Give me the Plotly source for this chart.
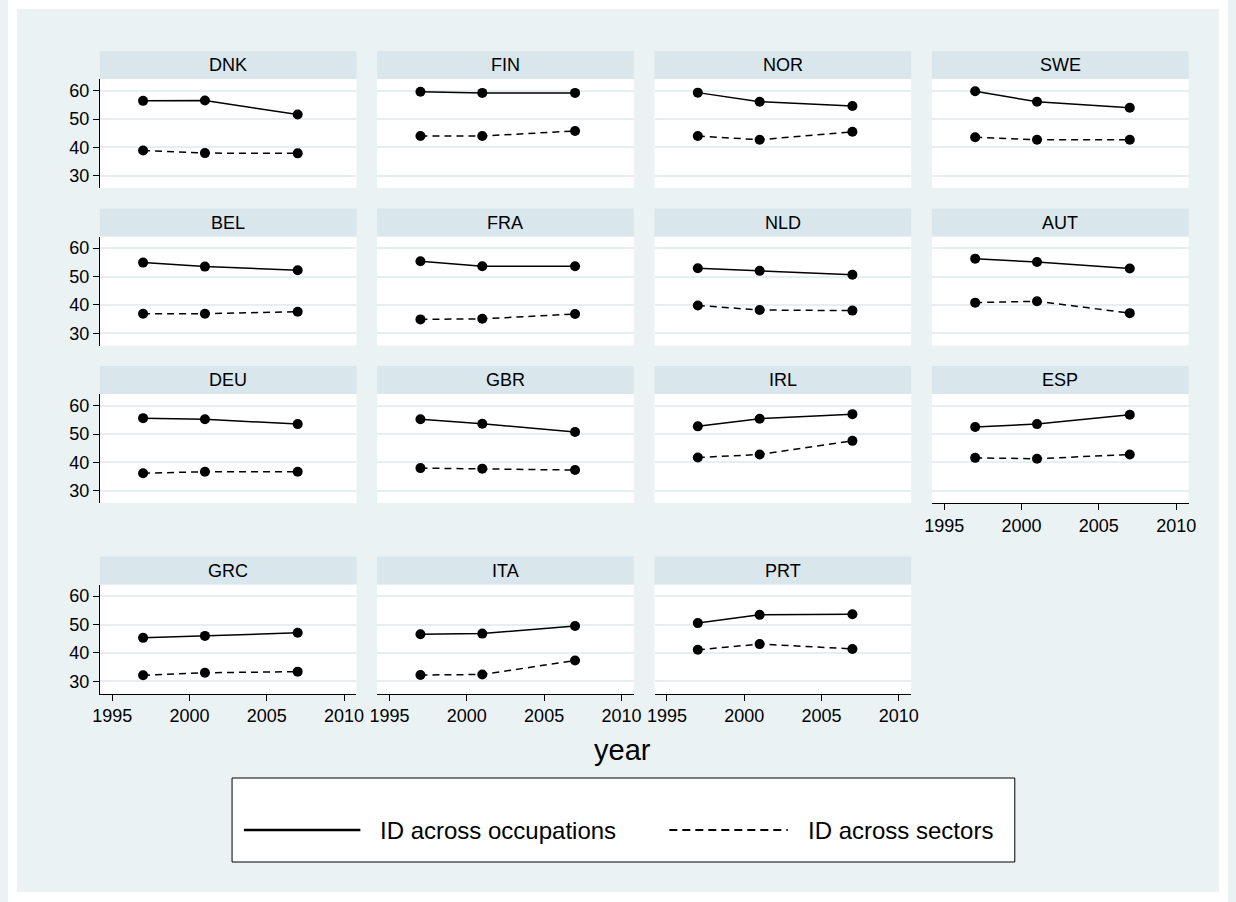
import plotly.graph_objects as go

# ---------------- data ----------------
countries = ["DNK", "FIN", "NOR", "SWE",
             "BEL", "FRA", "NLD", "AUT",
             "DEU", "GBR", "IRL", "ESP",
             "GRC", "ITA", "PRT"]
years = [1997, 2001, 2007]

id_occupations = {
    "DNK": [56.4, 56.5, 51.6],
    "FIN": [59.6, 59.2, 59.2],
    "NOR": [59.3, 56.1, 54.6],
    "SWE": [59.8, 56.1, 54.0],
    "BEL": [54.9, 53.5, 52.2],
    "FRA": [55.4, 53.6, 53.6],
    "NLD": [52.9, 52.0, 50.6],
    "AUT": [56.3, 55.1, 52.8],
    "DEU": [55.6, 55.2, 53.5],
    "GBR": [55.2, 53.6, 50.7],
    "IRL": [52.7, 55.4, 57.0],
    "ESP": [52.5, 53.5, 56.8],
    "GRC": [45.3, 46.0, 47.1],
    "ITA": [46.6, 46.8, 49.5],
    "PRT": [50.5, 53.4, 53.6],
}
id_sectors = {
    "DNK": [38.9, 38.0, 37.9],
    "FIN": [44.0, 44.0, 45.8],
    "NOR": [44.0, 42.7, 45.5],
    "SWE": [43.6, 42.7, 42.7],
    "BEL": [36.9, 36.9, 37.6],
    "FRA": [34.9, 35.1, 36.8],
    "NLD": [39.8, 38.2, 38.0],
    "AUT": [40.8, 41.3, 37.1],
    "DEU": [36.2, 36.7, 36.7],
    "GBR": [38.0, 37.8, 37.3],
    "IRL": [41.7, 42.8, 47.6],
    "ESP": [41.6, 41.3, 42.8],
    "GRC": [32.1, 33.0, 33.4],
    "ITA": [32.2, 32.4, 37.3],
    "PRT": [41.1, 43.1, 41.4],
}
y_ticks = [30, 40, 50, 60]
x_ticks = [1995, 2000, 2005, 2010]
legend_labels = ["ID across occupations", "ID across sectors"]
x_title = "year"

# ---------------- layout geometry (pixels) ----------------
W, H = 1236, 902
FONT = "Liberation Sans, Arial, sans-serif"
BG = "#EAF2F3"
STRIP = "#D9E6EB"
GRID = "#E6EEF0"

col_left = [93, 374, 655, 936]
panel_w = 260
strip_top = [51, 208.5, 366, 556.5]
strip_h = 28
plot_h = 109
y_range = [25.7, 64.1]
x_range = [1994.2, 2010.8]

def px(x):
    return x / W

def py(y):
    return 1 - y / H

fig = go.Figure()
shapes = []
annotations = []

# white outer frame
for (x0, y0, x1, y1) in [(0, 0, W, 9), (0, 892, W, H), (0, 0, 9, H), (1227, 0, W, H)]:
    shapes.append(dict(type="rect", xref="paper", yref="paper",
                       x0=px(x0), x1=px(x1), y0=py(y1), y1=py(y0),
                       fillcolor="white", line=dict(width=0), layer="below"))

bottom_panels = {"ESP", "GRC", "ITA", "PRT"}

for i, c in enumerate(countries):
    r, k = divmod(i, 4)
    n = i + 1
    xa = "x" if n == 1 else f"x{n}"
    ya = "y" if n == 1 else f"y{n}"
    left = col_left[k]
    top = strip_top[r] + strip_h
    bottom = top + plot_h

    fig.add_trace(go.Scatter(
        x=years, y=id_occupations[c], xaxis=xa, yaxis=ya,
        mode="lines+markers", name=legend_labels[0], showlegend=False,
        line=dict(color="black", width=1.5, dash="solid"),
        marker=dict(color="black", size=10, symbol="circle")))
    fig.add_trace(go.Scatter(
        x=years, y=id_sectors[c], xaxis=xa, yaxis=ya,
        mode="lines+markers", name=legend_labels[1], showlegend=False,
        line=dict(color="black", width=1.5, dash="7px,5px"),
        marker=dict(color="black", size=10, symbol="circle")))

    show_x = c in bottom_panels
    show_y = (k == 0)
    xkey = "xaxis" if n == 1 else f"xaxis{n}"
    ykey = "yaxis" if n == 1 else f"yaxis{n}"
    fig.layout[xkey] = dict(
        domain=[px(left), px(left + panel_w)], anchor=ya,
        range=x_range, tickvals=x_ticks, ticktext=[str(t) for t in x_ticks],
        showgrid=False, zeroline=False,
        showline=show_x, linecolor="black", linewidth=1,
        ticks="outside" if show_x else "", ticklen=6, tickcolor="black",
        showticklabels=show_x,
        tickfont=dict(family=FONT, size=18, color="black"),
        fixedrange=True)
    fig.layout[ykey] = dict(
        domain=[py(bottom), py(top)], anchor=xa,
        range=y_range, tickvals=y_ticks, ticktext=[str(t) for t in y_ticks],
        showgrid=True, gridcolor=GRID, gridwidth=2, zeroline=False,
        showline=show_y, linecolor="black", linewidth=1,
        ticks="outside" if show_y else "", ticklen=6, tickcolor="black",
        showticklabels=show_y,
        tickfont=dict(family=FONT, size=18, color="black"),
        fixedrange=True)

    # strip
    shapes.append(dict(type="rect", xref="paper", yref="paper",
                       x0=px(left), x1=px(left + panel_w),
                       y0=py(top), y1=py(strip_top[r]),
                       fillcolor=STRIP, line=dict(width=0), layer="below"))
    annotations.append(dict(text=c, xref="paper", yref="paper",
                            x=px(left + panel_w / 2), y=py(strip_top[r] + strip_h / 2),
                            xanchor="center", yanchor="middle", showarrow=False,
                            font=dict(family=FONT, size=18, color="black")))

# x title
annotations.append(dict(text=x_title, xref="paper", yref="paper",
                        x=px(623), y=py(750), xanchor="center", yanchor="middle",
                        showarrow=False, font=dict(family=FONT, size=29, color="black")))

# legend box
lb = dict(x0=227, x1=1020, y0=778, y1=862)
shapes.append(dict(type="rect", xref="paper", yref="paper",
                   x0=px(lb["x0"]), x1=px(lb["x1"]), y0=py(lb["y1"]), y1=py(lb["y0"]),
                   fillcolor="white", line=dict(color="black", width=1), layer="above"))
ly = 830
shapes.append(dict(type="line", xref="paper", yref="paper",
                   x0=px(239), x1=px(357), y0=py(ly), y1=py(ly),
                   line=dict(color="black", width=2.5, dash="solid"), layer="above"))
shapes.append(dict(type="line", xref="paper", yref="paper",
                   x0=px(670), x1=px(790), y0=py(ly), y1=py(ly),
                   line=dict(color="black", width=2, dash="8px,5px"), layer="above"))
annotations.append(dict(text=legend_labels[0], xref="paper", yref="paper",
                        x=px(375), y=py(ly), xanchor="left", yanchor="middle",
                        showarrow=False, font=dict(family=FONT, size=24, color="black")))
annotations.append(dict(text=legend_labels[1], xref="paper", yref="paper",
                        x=px(808), y=py(ly), xanchor="left", yanchor="middle",
                        showarrow=False, font=dict(family=FONT, size=24, color="black")))

fig.update_layout(
    width=W, height=H, margin=dict(l=0, r=0, t=0, b=0, pad=0),
    paper_bgcolor=BG, plot_bgcolor="white",
    shapes=shapes, annotations=annotations, showlegend=False,
    font=dict(family=FONT, color="black"))

fig.write_html("out.html")
